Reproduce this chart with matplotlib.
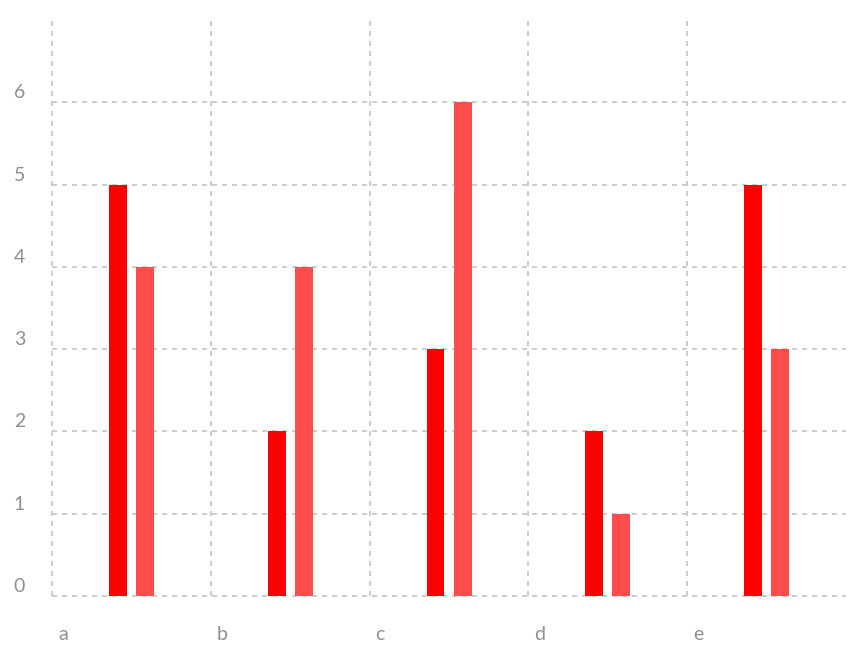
import matplotlib as mpl
import numpy as np
mpl.rcParams.update({'font.family': ['Lato', 'DejaVu Sans'], 'font.size': 11})
from matplotlib import pyplot as plt
from matplotlib.transforms import ScaledTranslation

categories = ['a', 'b', 'c', 'd', 'e']
series1 = [5, 2, 3, 2, 5]
series2 = [4, 4, 6, 1, 3]

fig = plt.figure(figsize=(8.58, 6.61), dpi=100)
ax = fig.add_axes([52 / 858, 65 / 661, 794 / 858, 576 / 661])

x = np.arange(len(categories))
w = 0.113
ax.bar(x + 0.415, series1, width=w, color='#ff0000', zorder=3)
ax.bar(x + 0.586, series2, width=w, color='#ff4d4d', zorder=3)

ax.set_xlim(0, 5)
ax.set_ylim(0, 7)
ax.set_xticks(x)
ax.set_xticklabels(categories)
ax.set_yticks(range(7))

for s in ax.spines.values():
    s.set_visible(False)
ax.grid(True, color='#c4c4c4', linestyle=(0, (3, 3)), linewidth=1.2, zorder=0)
for gl in ax.get_ygridlines() + ax.get_xgridlines():
    gl.set_clip_on(False)
ax.tick_params(length=0, colors='#8f8f8f', labelsize=14)

for lbl in ax.get_xticklabels():
    lbl.set_horizontalalignment('left')
    lbl.set_transform(lbl.get_transform() + ScaledTranslation(0.06, -0.25, fig.dpi_scale_trans))
for lbl in ax.get_yticklabels():
    lbl.set_transform(lbl.get_transform() + ScaledTranslation(-0.22, 0.11, fig.dpi_scale_trans))

fig.savefig('out.png', dpi=100)
